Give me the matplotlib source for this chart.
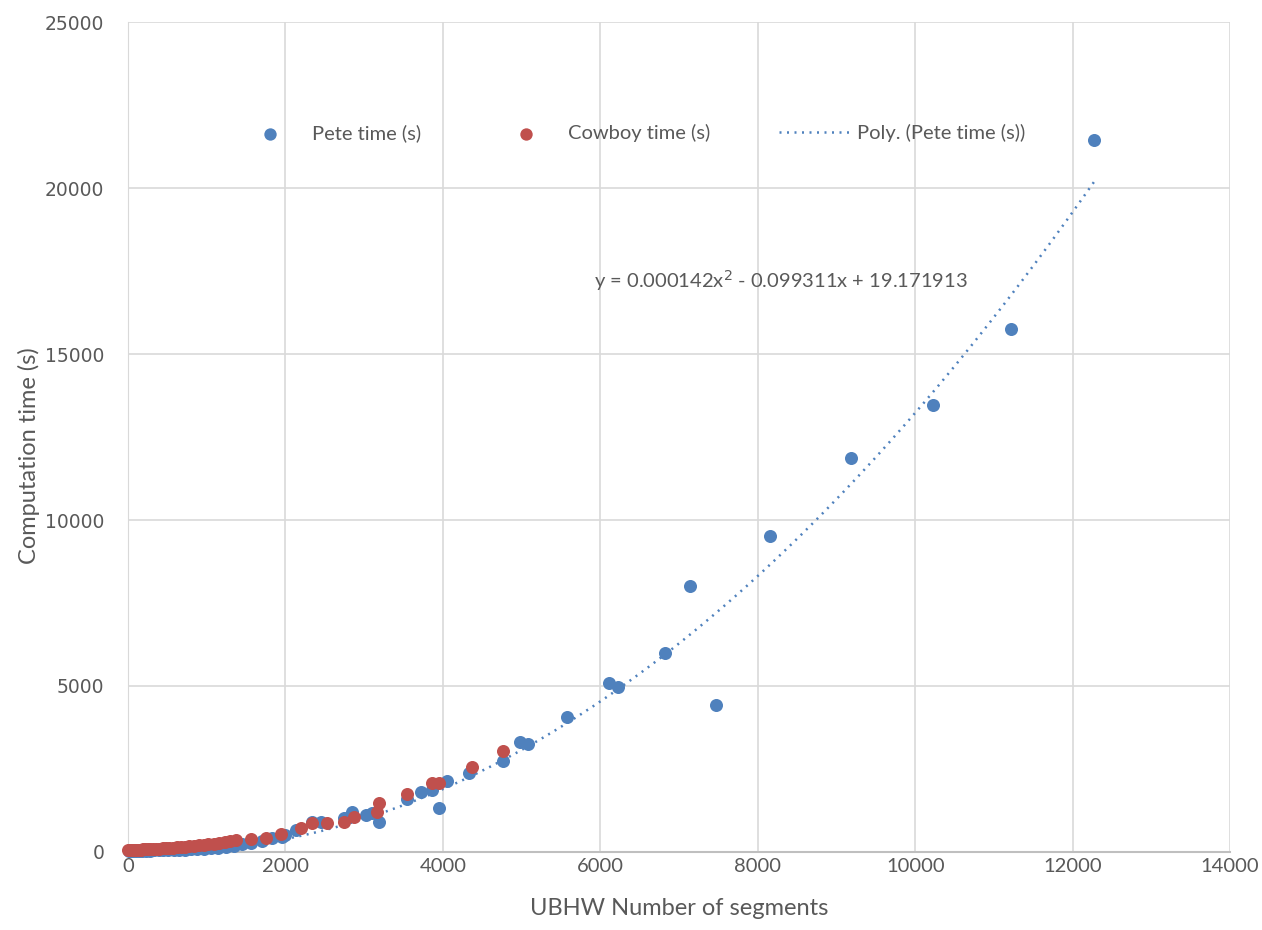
import numpy as np
import matplotlib
matplotlib.use("Agg")
import matplotlib.pyplot as plt

# Lato stands in for the narrow office face, DejaVu for the y tick labels
narrow = "Lato"

# Pete solver timings
pete_x = [10, 40, 70, 100, 140, 180, 230, 280, 330, 390, 450, 510, 580, 650,
          720, 800, 880, 960, 1050, 1150, 1250, 1350, 1450, 1565, 1700, 1832,
          1959, 2000, 2137, 2341, 2455, 2748, 2850, 3028, 3104, 3193, 3550,
          3728, 3868, 3957, 4059, 4338, 4758, 4975, 5076, 5573, 6107, 6221,
          6819, 7137, 7468, 8155, 9186, 10229, 11221, 12270]
pete_y = [20, 25, 25, 30, 30, 35, 40, 40, 45, 50, 50, 55, 60, 60,
          70, 75, 85, 100, 110, 130, 150, 190, 230, 271, 340, 422,
          452, 520, 663, 904, 904, 1025, 1206, 1115, 1176, 904, 1598,
          1809, 1869, 1326, 2140, 2382, 2743, 3316, 3256, 4070, 5095, 4974,
          6000, 8019, 4432, 9527, 11878, 13476, 15767, 21450]

# Cowboy solver timings
cowboy_x = [0, 20, 40, 60, 80, 100, 130, 160, 190, 220, 250, 280, 320, 360,
            400, 440, 480, 520, 570, 620, 670, 720, 780, 840, 900, 960, 1020,
            1090, 1160, 1230, 1300, 1374, 1565, 1756, 1947, 2201, 2341, 2532,
            2748, 2875, 3168, 3193, 3550, 3868, 3957, 4364, 4758]
cowboy_y = [60, 60, 62, 65, 65, 70, 70, 72, 75, 78, 80, 85, 90, 95,
            100, 110, 115, 120, 130, 140, 150, 160, 170, 185, 200, 215, 230,
            250, 270, 290, 320, 362, 392, 422, 543, 724, 874, 874,
            904, 1055, 1206, 1477, 1749, 2080, 2080, 2562, 3045]

# quadratic trend fitted to Pete
coef = [0.000142, -0.099311, 19.171913]

blue = "#4F81BD"
red = "#C0504D"
grid_c = "#D9D9D9"
text_c = "#595959"

fig = plt.figure(figsize=(12.62, 9.30), dpi=100)
ax = fig.add_axes([0.1014, 0.0839, 0.8733, 0.8924])

ax.scatter(pete_x, pete_y, s=88, color=blue, label="Pete time (s)",
           zorder=3, clip_on=False, linewidths=0)
ax.scatter(cowboy_x, cowboy_y, s=88, color=red, label="Cowboy time (s)",
           zorder=4, clip_on=False, linewidths=0)

xt = np.linspace(0, max(pete_x), 300)
ax.plot(xt, np.polyval(coef, xt), color=blue, lw=1.8,
        linestyle=(0, (0.8, 2.2)), label="Poly. (Pete time (s))", zorder=2)

ax.set_xlim(0, 14000)
ax.set_ylim(0, 25000)
ax.set_xticks(range(0, 14001, 2000))
ax.set_yticks(range(0, 25001, 5000))
ax.grid(True, color=grid_c, lw=1.2)
ax.set_axisbelow(True)
for s in ["top", "right"]:
    ax.spines[s].set_visible(False)
ax.spines["left"].set_color(grid_c)
ax.spines["bottom"].set_color("#BFBFBF")
ax.spines["bottom"].set_linewidth(1.5)
ax.tick_params(axis="x", length=0, pad=4)
ax.tick_params(axis="y", length=0, pad=17)

for lab in ax.get_xticklabels():
    lab.set_fontfamily(narrow)
    lab.set_fontsize(14.5)
    lab.set_color(text_c)
for lab in ax.get_yticklabels():
    lab.set_fontfamily("DejaVu Sans")
    lab.set_fontsize(13.5)
    lab.set_color(text_c)

ax.set_xlabel("UBHW Number of segments", fontfamily=narrow, fontsize=17,
              color=text_c)
ax.set_ylabel("Computation time (s)", fontfamily=narrow, fontsize=17,
              color=text_c)
ax.xaxis.set_label_coords(0.5, -0.056)
ax.yaxis.set_label_coords(-0.080, 0.477)

eq = "y = 0.000142x$^2$ - 0.099311x + 19.171913"
ax.text(8300, 17200, eq, fontfamily=narrow, fontsize=14.5, color=text_c,
        ha="center", va="center")

ax.legend(loc="center", bbox_to_anchor=(0.455, 0.866), ncol=3, frameon=False,
          prop={"family": narrow, "size": 14.5}, labelcolor=text_c,
          handlelength=3.6, handletextpad=0.3, columnspacing=3.4,
          markerscale=0.95)

fig.savefig("out.png", dpi=100, facecolor="white")
